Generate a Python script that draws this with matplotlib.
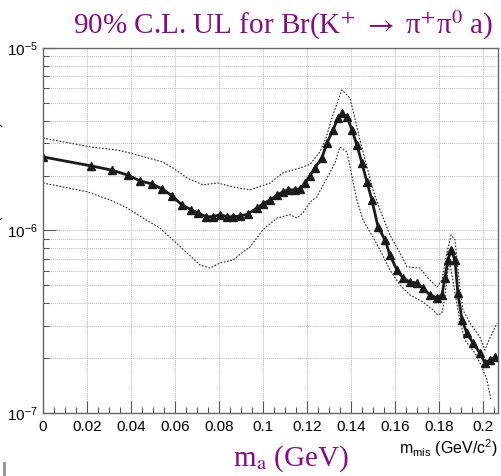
import numpy as np
import matplotlib
matplotlib.use("Agg")
import matplotlib.pyplot as plt
from matplotlib.ticker import MultipleLocator, LogLocator, FuncFormatter, NullFormatter
from matplotlib.patches import Rectangle

plt.rcParams["font.family"] = ["Liberation Sans", "DejaVu Sans"]
plt.rcParams["mathtext.fontset"] = "custom"
plt.rcParams["mathtext.rm"] = "Liberation Sans"
plt.rcParams["mathtext.it"] = "Liberation Sans:italic"
plt.rcParams["mathtext.bf"] = "Liberation Sans:bold"

# central 90% CL upper limit
m_ul = [0.0000, 0.0218, 0.0314, 0.0386, 0.0441, 0.0495, 0.0541, 0.0586, 0.0632, 0.0673,
        0.0705, 0.0741, 0.0773, 0.0805, 0.0836, 0.0864, 0.0895, 0.0932, 0.0973, 0.1000,
        0.1032, 0.1064, 0.1091, 0.1114, 0.1145, 0.1168, 0.1191, 0.1214, 0.1236, 0.1268,
        0.1291, 0.1318, 0.1341, 0.1359, 0.1382, 0.1405, 0.1427, 0.1450, 0.1473, 0.1495,
        0.1523, 0.1555, 0.1577, 0.1609, 0.1636, 0.1668, 0.1700, 0.1727, 0.1759, 0.1791,
        0.1814, 0.1827, 0.1841, 0.1855, 0.1873, 0.1886, 0.1905, 0.1927, 0.1955, 0.1986,
        0.2009, 0.2032, 0.2055]
ul = [2.53e-6, 2.26e-6, 2.14e-6, 2.01e-6, 1.87e-6, 1.80e-6, 1.69e-6, 1.55e-6, 1.38e-6, 1.30e-6,
      1.25e-6, 1.19e-6, 1.19e-6, 1.22e-6, 1.19e-6, 1.19e-6, 1.20e-6, 1.23e-6, 1.33e-6, 1.40e-6,
      1.47e-6, 1.56e-6, 1.63e-6, 1.67e-6, 1.67e-6, 1.69e-6, 1.82e-6, 1.99e-6, 2.20e-6, 2.50e-6,
      3.02e-6, 3.55e-6, 4.13e-6, 4.40e-6, 4.19e-6, 3.55e-6, 2.94e-6, 2.34e-6, 1.84e-6, 1.47e-6,
      1.05e-6, 8.87e-7, 7.34e-7, 6.08e-7, 5.49e-7, 5.22e-7, 5.16e-7, 4.84e-7, 4.43e-7, 4.27e-7,
      4.43e-7, 5.49e-7, 6.89e-7, 7.82e-7, 6.89e-7, 4.54e-7, 3.23e-7, 2.74e-7, 2.42e-7, 2.13e-7,
      1.88e-7, 1.95e-7, 2.03e-7]

# upper edge of the band
m_hi = [0.0000, 0.0214, 0.0336, 0.0395, 0.0545, 0.0591, 0.0655, 0.0727, 0.0795, 0.0864,
        0.0941, 0.1032, 0.1091, 0.1168, 0.1214, 0.1259, 0.1286, 0.1318, 0.1359, 0.1395,
        0.1409, 0.1441, 0.1473, 0.1500, 0.1532, 0.1577, 0.1623, 0.1655, 0.1714, 0.1745,
        0.1791, 0.1814, 0.1836, 0.1855, 0.1873, 0.1895, 0.1909, 0.1941, 0.1986, 0.2009,
        0.2032, 0.2064]
ul_hi = [3.21e-6, 2.87e-6, 2.76e-6, 2.66e-6, 2.37e-6, 2.20e-6, 1.94e-6, 1.78e-6, 1.82e-6, 1.73e-6,
         1.67e-6, 1.82e-6, 2.07e-6, 2.20e-6, 2.30e-6, 2.70e-6, 3.20e-6, 4.30e-6, 5.89e-6, 5.32e-6,
         4.57e-6, 3.13e-6, 2.23e-6, 1.67e-6, 1.30e-6, 9.45e-7, 7.53e-7, 6.31e-7, 6.23e-7, 5.56e-7,
         4.90e-7, 5.36e-7, 7.53e-7, 9.45e-7, 8.87e-7, 4.90e-7, 3.67e-7, 3.11e-7, 2.61e-7, 2.21e-7,
         2.58e-7, 3.11e-7]

# lower edge of the band
m_lo = [0.0000, 0.0200, 0.0305, 0.0382, 0.0455, 0.0532, 0.0591, 0.0655, 0.0714, 0.0759,
        0.0805, 0.0864, 0.0909, 0.0941, 0.1000, 0.1064, 0.1123, 0.1155, 0.1182, 0.1214,
        0.1245, 0.1291, 0.1327, 0.1350, 0.1382, 0.1405, 0.1427, 0.1455, 0.1500, 0.1532,
        0.1577, 0.1623, 0.1668, 0.1727, 0.1773, 0.1795, 0.1814, 0.1827, 0.1841, 0.1850,
        0.1873, 0.1895, 0.1918, 0.1964, 0.1995, 0.2018, 0.2036]
ul_lo = [1.82e-6, 1.63e-6, 1.47e-6, 1.33e-6, 1.17e-6, 1.03e-6, 8.87e-7, 7.53e-7, 6.47e-7, 6.23e-7,
         6.64e-7, 6.89e-7, 7.62e-7, 8.12e-7, 1.01e-6, 1.17e-6, 1.22e-6, 1.17e-6, 1.25e-6, 1.43e-6,
         1.53e-6, 1.94e-6, 2.34e-6, 2.87e-6, 2.69e-6, 1.97e-6, 1.47e-6, 1.14e-6, 9.21e-7, 7.82e-7,
         6.08e-7, 5.03e-7, 4.43e-7, 4.06e-7, 3.67e-7, 3.44e-7, 3.53e-7, 4.32e-7, 6.08e-7, 6.64e-7,
         4.54e-7, 3.23e-7, 2.51e-7, 2.13e-7, 1.79e-7, 1.52e-7, 1.19e-7]

purple = "#850c85"
serif = ["Liberation Serif", "DejaVu Serif"]

fig = plt.figure(figsize=(5.01, 4.76), dpi=100)
ax = fig.add_axes([0.0858, 0.1324, 0.908, 0.7668])

ax.plot(m_hi, ul_hi, color="#222222", lw=0.8, ls=(0, (1.5, 1.5)))
ax.plot(m_lo, ul_lo, color="#222222", lw=0.8, ls=(0, (1.5, 1.5)))
ax.plot(m_ul, ul, color="#1a1a1a", lw=2.0, marker="^", ms=5.5, mec="#1a1a1a", mfc="#1a1a1a")

ax.set_yscale("log")
ax.set_xlim(0, 0.2068)
ax.set_ylim(1e-7, 1e-5)

ax.xaxis.set_major_locator(MultipleLocator(0.02))
ax.xaxis.set_minor_locator(MultipleLocator(0.005))
ax.xaxis.set_major_formatter(FuncFormatter(lambda v, p: "%g" % round(v, 3)))
ax.yaxis.set_major_locator(LogLocator(base=10, numticks=10))
ax.yaxis.set_minor_locator(LogLocator(base=10, subs=np.arange(2, 10), numticks=10))
ax.yaxis.set_minor_formatter(NullFormatter())

ax.grid(True, which="major", axis="x", color="#bbbbbb", lw=0.7, ls=(0, (1, 1)))
ax.grid(True, which="both", axis="y", color="#bbbbbb", lw=0.7, ls=(0, (1, 1)))

ax.tick_params(which="both", direction="in", colors="#555555", labelcolor="black",
               labelsize=11, top=False, right=False)
ax.tick_params(which="major", length=9, width=0.8)
ax.tick_params(which="minor", length=4.5, width=0.8)
ax.tick_params(axis="x", pad=5)
for s in ax.spines.values():
    s.set_color("#666666")
    s.set_linewidth(1.0)

fig.text(0.565, 0.947, r"90% C.L. UL for Br(K$^{+}$ $\rightarrow$ π$^{+}$π$^{0}$ a)",
         ha="center", va="center", fontsize=21, color=purple,
         family=serif, math_fontfamily="stix")
fig.text(0.58, 0.036, r"m$_{\mathrm{a}}$ (GeV)", ha="center", va="center", fontsize=21,
         color=purple, family=serif, math_fontfamily="stix")
fig.text(0.994, 0.058, r"m$_{\mathrm{mis}}$ (GeV/c$^{2}$)", ha="right", va="center",
         fontsize=11.5, color="black")

# axis title of the underlying histogram, mostly off the left edge
fig.text(0.006, 0.67, "UL of Br(K⁺ → π⁺π⁰ a) at 90% C.L.", rotation=90, ha="right",
         va="center", fontsize=11, color="black")
fig.patches.append(Rectangle((0.006, 0.0), 0.006, 0.03, transform=fig.transFigure,
                             color="#999999", lw=0))

fig.savefig("out.png", dpi=100)
